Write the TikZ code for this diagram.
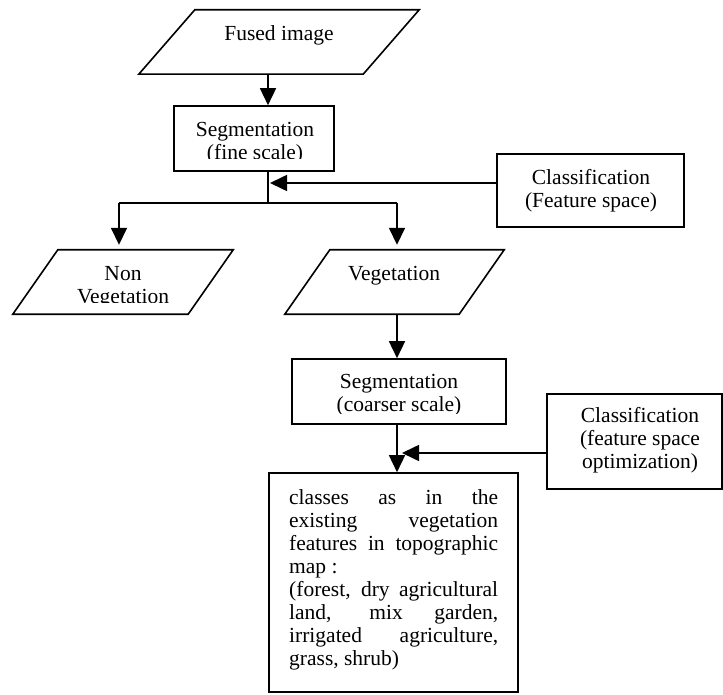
\documentclass[tikz,border=0pt]{standalone}
\usepackage{fontspec}
\setmainfont{Liberation Serif}
\usetikzlibrary{arrows.meta,calc}
\begin{document}
\begin{tikzpicture}[x=1pt,y=-1pt,
  ln/.style={line width=1.6pt},
  arr/.style={ln,-{Triangle[length=17pt,width=16pt]}},
  box/.style={draw,line width=1.6pt,rectangle,inner sep=0pt},
  shp/.style={draw=none,rectangle,inner sep=0pt},
  txt/.style={font=\fontsize{21.5}{23}\selectfont,anchor=base,inner sep=0pt},
  ltxt/.style={txt,anchor=base west},
]
\useasboundingbox (0,0) rectangle (723,695);

% shapes
\node[shp,minimum width=280pt,minimum height=64pt] (fused) at (279,42) {};
\draw[ln] (fused.south west) -- ($(fused.south east)+(-56,0)$) -- (fused.north east) -- ($(fused.north west)+(56,0)$) -- cycle;

\node[box,minimum width=160pt,minimum height=65pt] (seg1) at (254,138.5) {};
\node[box,minimum width=187pt,minimum height=73pt] (cls1) at (590.5,190.5) {};

\node[shp,minimum width=220pt,minimum height=64pt] (nonveg) at (123,282) {};
\draw[ln] (nonveg.south west) -- ($(nonveg.south east)+(-45,0)$) -- (nonveg.north east) -- ($(nonveg.north west)+(45,0)$) -- cycle;

\node[shp,minimum width=219pt,minimum height=64pt] (veg) at (394.5,282) {};
\draw[ln] (veg.south west) -- ($(veg.south east)+(-45,0)$) -- (veg.north east) -- ($(veg.north west)+(45,0)$) -- cycle;

\node[box,minimum width=214pt,minimum height=65pt] (seg2) at (399,391.5) {};
\node[box,minimum width=175pt,minimum height=95pt] (cls2) at (634.5,441.5) {};
\node[box,minimum width=249pt,minimum height=219pt] (final) at (393.5,582.5) {};

% texts
\node[txt] (fusedt) at (279,41) {Fused image};
\node[txt] (seg1a) at (255,137) {Segmentation};
\begin{scope}
  \clip (174,106) rectangle (334,159);
  \node[txt] (seg1b) at (255,160) {(fine scale)};
\end{scope}
\node[txt] (cls1a) at (591,185) {Classification};
\node[txt] (cls1b) at (591,208) {(Feature space)};
\node[txt] (nonveg1) at (123,280) {Non};
\begin{scope}
  \clip (13,250) rectangle (233,302);
  \node[txt] (nonveg2) at (123,303) {Vegetation};
\end{scope}
\node[txt] (vegt) at (394,280) {Vegetation};
\node[txt] (seg2a) at (399,388) {Segmentation};
\begin{scope}
  \clip (292,359) rectangle (506,413);
  \node[txt] (seg2b) at (399,411) {(coarser scale)};
\end{scope}
\node[txt] (cls2a) at (640,422) {Classification};
\node[txt] (cls2b) at (640,445) {(feature space};
\node[txt] (cls2c) at (640,468) {optimization)};

\node[ltxt] (f1) at (289,504) {\makebox[209pt][s]{classes as in the}};
\node[ltxt] (f2) at (289,527) {\makebox[209pt][s]{existing vegetation}};
\node[ltxt] (f3) at (289,550) {\makebox[209pt][s]{features in topographic}};
\node[ltxt] (f4) at (289,573) {map :};
\node[ltxt] (f5) at (289,596) {\makebox[209pt][s]{(forest, dry agricultural}};
\node[ltxt] (f6) at (289,619) {\makebox[209pt][s]{land, mix garden,}};
\node[ltxt] (f7) at (289,642) {\makebox[209pt][s]{irrigated agriculture,}};
\node[ltxt] (f8) at (289,665) {grass, shrub)};

% connector points
\coordinate (j1) at (268,203);
\coordinate (bl) at (119,203);
\coordinate (br) at (397,203);
\coordinate (h1) at (270,183);
\coordinate (h2) at (402,453);

% connectors
\draw[arr] (fused.south -| j1) -- (seg1.north -| j1);
\draw[ln] (seg1.south -| j1) -- (j1);
\draw[arr] (cls1.west |- h1) -- (h1);
\draw[ln] (bl) -- (br);
\draw[arr,shorten >=5pt] (bl) -- (nonveg.north -| bl);
\draw[arr,shorten >=5pt] (br) -- (veg.north -| br);
\draw[arr] (veg.south -| br) -- (seg2.north -| br);
\draw[arr] (seg2.south -| br) -- (final.north -| br);
\draw[arr] (cls2.west |- h2) -- (h2);
\end{tikzpicture}
\end{document}
